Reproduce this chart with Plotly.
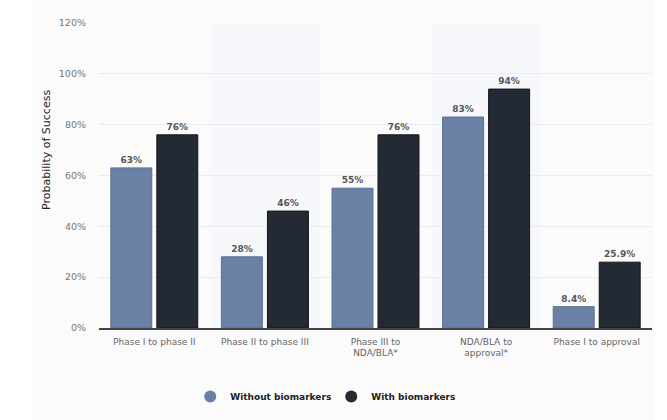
import plotly.graph_objects as go

categories = ["Phase I to phase II", "Phase II to phase III", "Phase III to<br>NDA/BLA*",
              "NDA/BLA to<br>approval*", "Phase I to approval"]
without_bm = [63, 28, 55, 83, 8.4]
with_bm = [76, 46, 76, 94, 25.9]
without_lbl = ["63%", "28%", "55%", "83%", "8.4%"]
with_lbl = ["76%", "46%", "76%", "94%", "25.9%"]
series_names = ["Without biomarkers", "With biomarkers"]

BLUE = "#6a80a5"
DARK = "#232a33"

xs = list(range(len(categories)))
fig = go.Figure()
fig.add_trace(go.Bar(
    x=xs, y=without_bm, name=series_names[0], showlegend=False,
    marker=dict(color=BLUE, line=dict(color="#5a6f93", width=1)),
    text=without_lbl, textposition="outside", cliponaxis=False,
    textfont=dict(size=9, color="#555555", family="DejaVu Sans", weight="bold"),
))
fig.add_trace(go.Bar(
    x=xs, y=with_bm, name=series_names[1], showlegend=False,
    marker=dict(color=DARK, line=dict(color="#111418", width=1)),
    text=with_lbl, textposition="outside", cliponaxis=False,
    textfont=dict(size=9, color="#555555", family="DejaVu Sans", weight="bold"),
))
# legend entries with round markers
for name, col in zip(series_names, [BLUE, DARK]):
    fig.add_trace(go.Scatter(x=[None], y=[None], mode="markers", name=name,
                             marker=dict(color=col, size=11, symbol="circle")))

# light outer panel
fig.add_shape(type="rect", xref="paper", yref="paper", x0=-0.119, x1=1.004, y0=-0.32, y1=1.1,
              fillcolor="#fbfbfb", line_width=0, layer="below")
# alternating column shading
for i in (1, 3):
    fig.add_shape(type="rect", xref="x", yref="y", x0=i - 0.5, x1=i + 0.5, y0=0, y1=120,
                  fillcolor="#f6f8fc", line_width=0, layer="below")

# y axis title sits a bit above the middle in the original
fig.add_annotation(text="Probability of Success", xref="paper", yref="paper",
                   x=-0.094, y=0.584, xanchor="center", yanchor="middle",
                   textangle=-90, showarrow=False,
                   font=dict(size=11, color="#222222", family="DejaVu Sans"))

fig.update_layout(
    width=667, height=420,
    paper_bgcolor="white", plot_bgcolor="rgba(0,0,0,0)",
    margin=dict(l=99, r=15, t=23, b=92, autoexpand=False),
    barmode="group", bargap=0.168, bargroupgap=0.11,
    font=dict(family="DejaVu Sans", color="#666666"),
    showlegend=True,
    legend=dict(orientation="h", x=0.165, xanchor="left", y=-0.177, yanchor="top",
                bgcolor="rgba(0,0,0,0)", entrywidth=96,
                font=dict(size=9, color="#222222", family="DejaVu Sans", weight="bold"),
                itemsizing="constant", traceorder="normal"),
    xaxis=dict(tickvals=xs, ticktext=categories, automargin=False,
               range=[-0.5, 4.5], showgrid=False, zeroline=False,
               showline=True, linecolor="#444444", linewidth=1.5,
               ticklabelstandoff=4,
               tickfont=dict(size=9, color="#666666")),
    yaxis=dict(range=[0, 120], dtick=20, ticksuffix="%", showgrid=True, automargin=False,
               gridcolor="#ebebeb", gridwidth=1, zeroline=False,
               tickfont=dict(size=9.5, color="#777777"), ticklabelstandoff=12),
)

# drop the default page margin so the figure sits at the window's corner
fig.write_html("out.html", config={"displayModeBar": False},
               post_script="document.body.style.margin='0px';")
